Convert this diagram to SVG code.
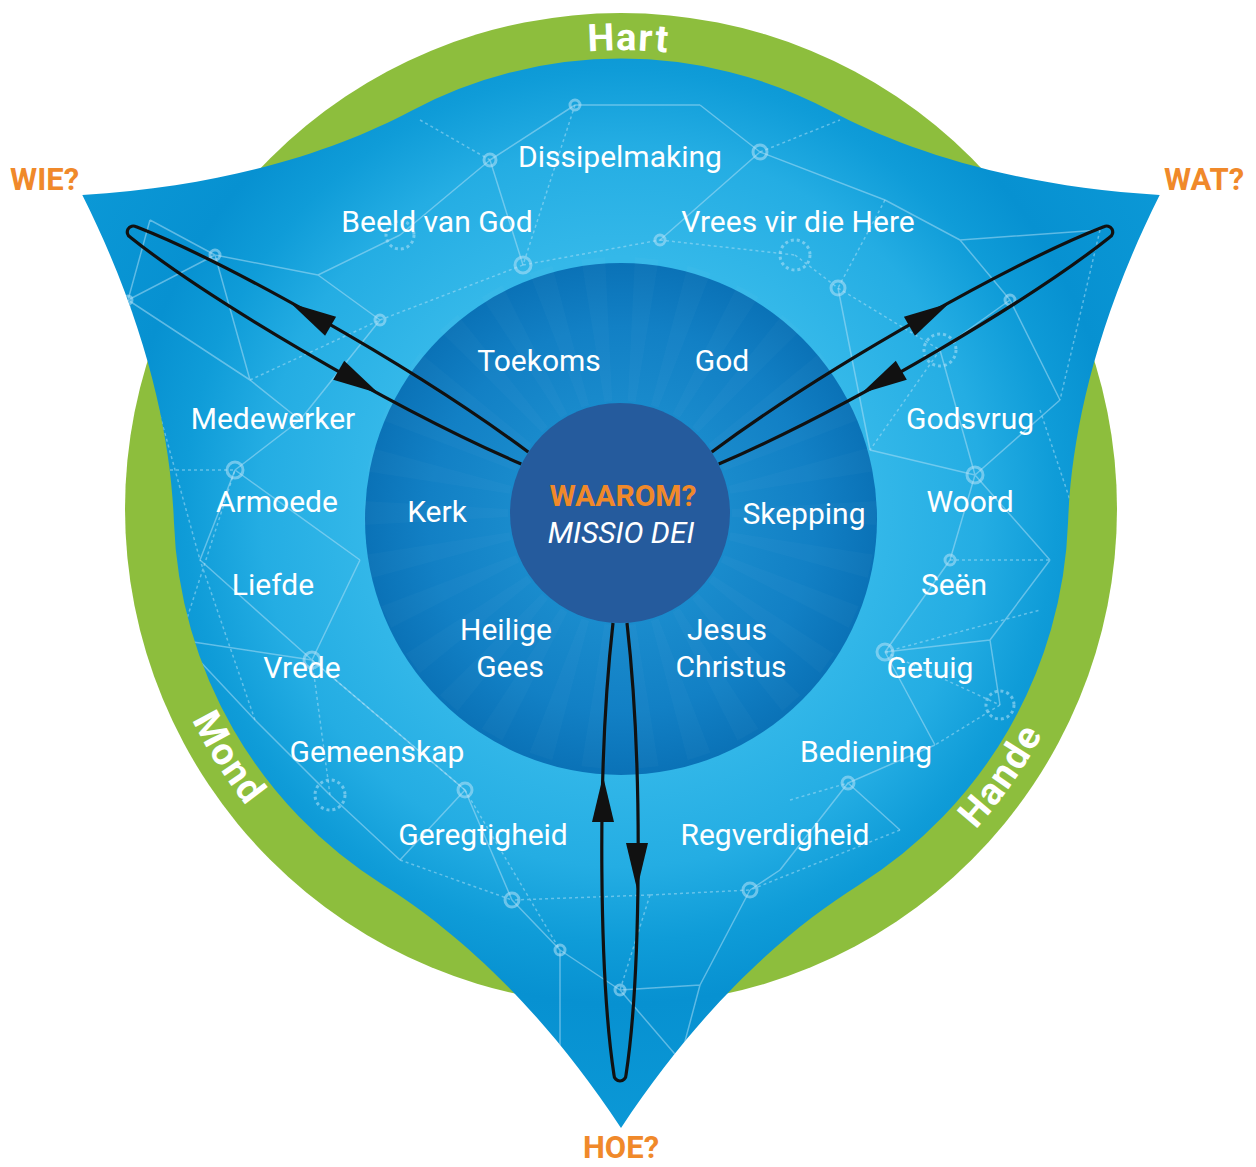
<svg xmlns="http://www.w3.org/2000/svg" xmlns:xlink="http://www.w3.org/1999/xlink" width="1256" height="1167" viewBox="0 0 1256 1167">
<style>
.lbl{font-family:Roboto,"Liberation Sans",sans-serif;font-size:30px;fill:#ffffff;text-anchor:middle;font-weight:400}
.q{font-family:Roboto,"Liberation Sans",sans-serif;font-size:31px;fill:#f0892a;font-weight:700}
.ring{font-family:Roboto,"Liberation Sans",sans-serif;font-size:38px;fill:#ffffff;font-weight:700;letter-spacing:1.5px}
.net{stroke:#b4e2f7;stroke-width:1.5;fill:none;stroke-opacity:0.5}
.dash{stroke-dasharray:3 3}
.nd{fill:none;stroke:#b4e2f7;stroke-opacity:0.55;stroke-width:3}
.loop{fill:none;stroke:#111111;stroke-width:3.2}
.arr{fill:#111111}
</style>
<defs>
<path id="blueShape" d="M82.3,195 C233,186 340,148.5 411,111 A447,447 0 0 1 831,111 C902,148.5 1009,186 1159.7,195 C1092.1,330 1071.1,441.4 1068.1,521.6 A447,447 0 0 1 858.1,885.4 C790.1,928.1 704.1,1002 621,1128 C537.9,1002 451.9,928.1 383.9,885.4 A447,447 0 0 1 173.9,521.6 C170.9,441.4 149.9,330 82.3,195 Z"/>
<clipPath id="blueClip"><use xlink:href="#blueShape"/></clipPath>
<radialGradient id="gBlue" gradientUnits="userSpaceOnUse" cx="621" cy="506" r="622">
<stop offset="0.4" stop-color="#34b8e9"/>
<stop offset="0.58" stop-color="#24ade3"/>
<stop offset="0.70" stop-color="#0f9cd8"/>
<stop offset="0.8" stop-color="#0791d1"/>
<stop offset="1" stop-color="#0b98d6"/>
</radialGradient>
<radialGradient id="gMid" gradientUnits="userSpaceOnUse" cx="621" cy="519" r="256">
<stop offset="0.4" stop-color="#1a8ccd"/>
<stop offset="0.75" stop-color="#1280c5"/>
<stop offset="1" stop-color="#0a72b7"/>
</radialGradient>
<polygon id="ray" points="112,-4 256,-12 256,12 112,4" fill="#ffffff" fill-opacity="0.025"/>
<path id="loop" d="M110,7 C260,24 470,20 562,6 A6,6 0 0 0 562,-6 C470,-20 260,-24 110,-7"/>
<polygon id="arrowOut" points="24,0 -22,-11 -22,11"/>
<path id="arcTop" d="M162,509 A459,459 0 0 1 1080,509"/>
<path id="arcBottom" d="M143,509 A478,478 0 0 0 1099,509"/>
</defs>

<rect width="1256" height="1167" fill="#ffffff"/>

<g id="green-ring">
<circle cx="621" cy="509" r="496" fill="#8dbe3d"/>
</g>

<g id="blue-area">
<use xlink:href="#blueShape" fill="url(#gBlue)"/>
<g clip-path="url(#blueClip)">
<g class="net">
<path d="M150,220L128,300M150,220L215,255M128,300L215,255M215,255L318,275M215,255L250,380M318,275L380,320M318,275L400,235M400,235L490,160M490,160L575,105M490,160L523,265M575,105L700,105M700,105L760,152M660,240L760,152M760,152L885,200M885,200L960,240M960,240L1010,300M960,240L1100,230M1010,300L940,350M1010,300L1060,400M940,350L975,475M1060,400L975,475M975,475L1050,560M975,475L950,560M950,560L885,652M885,652L990,640M990,640L1000,705M885,652L935,745M935,745L848,783M848,783L900,830M848,783L780,870M780,870L750,890M750,890L700,985M700,985L620,990M620,990L560,950M560,950L512,900M512,900L465,790M465,790L400,860M400,860L330,795M330,795L255,720M465,790L312,660M312,660L180,640M255,720L180,640M200,560L235,470M235,470L300,420M300,420L250,380M300,420L380,320M312,660L360,560M360,560L235,470M560,950L560,1060M620,990L680,1060M700,985L680,1060M870,450L975,475M870,450L838,288M128,300L250,380M1050,560L990,640M312,660L200,560"/>
</g>
<g class="net dash">
<path d="M250,380L380,320M380,320L523,265M523,265L660,240M575,105L523,265M660,240L795,255M795,255L838,288M838,288L940,350M885,200L838,288M1100,230L1060,400M940,350L870,450M950,560L1050,560M885,652L1000,705M1000,705L935,745M900,830L750,890M650,895L750,890M650,895L620,990M650,895L512,900M400,860L512,900M330,795L312,660M255,720L200,560M180,640L235,470M128,300L200,560M420,120L490,160M760,152L840,120M1040,410L1090,560M170,470L235,470M465,790L560,950M885,652L1040,610M312,660L465,790M790,800L848,783"/>
</g>
<g>
<circle class="nd" cx="490" cy="160" r="6"/>
<circle class="nd" cx="760" cy="152" r="7"/>
<circle class="nd" cx="523" cy="265" r="8"/>
<circle class="nd" cx="838" cy="288" r="7"/>
<circle class="nd dash" cx="795" cy="255" r="15" stroke-width="2"/>
<circle class="nd" cx="380" cy="320" r="5"/>
<circle class="nd" cx="235" cy="470" r="8"/>
<circle class="nd" cx="975" cy="475" r="8"/>
<circle class="nd" cx="885" cy="652" r="8"/>
<circle class="nd" cx="312" cy="660" r="8"/>
<circle class="nd" cx="465" cy="790" r="7"/>
<circle class="nd" cx="848" cy="783" r="6"/>
<circle class="nd dash" cx="330" cy="795" r="15" stroke-width="2"/>
<circle class="nd dash" cx="940" cy="350" r="16" stroke-width="2"/>
<circle class="nd" cx="750" cy="890" r="7"/>
<circle class="nd" cx="620" cy="990" r="5"/>
<circle class="nd" cx="215" cy="255" r="5"/>
<circle class="nd" cx="128" cy="300" r="4"/>
<circle class="nd" cx="1010" cy="300" r="5"/>
<circle class="nd dash" cx="400" cy="235" r="14" stroke-width="2"/>
<circle class="nd" cx="950" cy="560" r="5"/>
<circle class="nd" cx="560" cy="950" r="5"/>
<circle class="nd" cx="512" cy="900" r="7"/>
<circle class="nd dash" cx="1000" cy="705" r="14" stroke-width="2"/>
<circle class="nd" cx="660" cy="240" r="5"/>
<circle class="nd" cx="575" cy="105" r="5"/>
</g>
</g>
</g>

<g id="middle-circle">
<circle cx="621" cy="519" r="256" fill="url(#gMid)"/>
<g transform="translate(620,513)">
<use xlink:href="#ray" transform="rotate(0)"/><use xlink:href="#ray" transform="rotate(12)"/><use xlink:href="#ray" transform="rotate(24)"/><use xlink:href="#ray" transform="rotate(36)"/><use xlink:href="#ray" transform="rotate(48)"/><use xlink:href="#ray" transform="rotate(60)"/><use xlink:href="#ray" transform="rotate(72)"/><use xlink:href="#ray" transform="rotate(84)"/><use xlink:href="#ray" transform="rotate(96)"/><use xlink:href="#ray" transform="rotate(108)"/><use xlink:href="#ray" transform="rotate(120)"/><use xlink:href="#ray" transform="rotate(132)"/><use xlink:href="#ray" transform="rotate(144)"/><use xlink:href="#ray" transform="rotate(156)"/><use xlink:href="#ray" transform="rotate(168)"/><use xlink:href="#ray" transform="rotate(180)"/><use xlink:href="#ray" transform="rotate(192)"/><use xlink:href="#ray" transform="rotate(204)"/><use xlink:href="#ray" transform="rotate(216)"/><use xlink:href="#ray" transform="rotate(228)"/><use xlink:href="#ray" transform="rotate(240)"/><use xlink:href="#ray" transform="rotate(252)"/><use xlink:href="#ray" transform="rotate(264)"/><use xlink:href="#ray" transform="rotate(276)"/><use xlink:href="#ray" transform="rotate(288)"/><use xlink:href="#ray" transform="rotate(300)"/><use xlink:href="#ray" transform="rotate(312)"/><use xlink:href="#ray" transform="rotate(324)"/><use xlink:href="#ray" transform="rotate(336)"/><use xlink:href="#ray" transform="rotate(348)"/>
</g>
</g>

<g id="center">
<circle cx="620" cy="513" r="110" fill="#255b9d"/>
<text x="623" y="506" class="lbl" style="font-weight:700;fill:#f0892a;font-size:30px">WAAROM?</text>
<text x="621" y="543" class="lbl" style="font-style:italic;font-weight:400;font-size:30px">MISSIO DEI</text>
</g>

<g id="connectors">
<g transform="translate(620,513) rotate(210)">
<use xlink:href="#loop" class="loop"/>
<use xlink:href="#arrowOut" class="arr" transform="translate(366,17)"/>
<use xlink:href="#arrowOut" class="arr" transform="translate(293,-17) scale(-1,1)"/>
</g>
<g transform="translate(620,513) rotate(330)">
<use xlink:href="#loop" class="loop"/>
<use xlink:href="#arrowOut" class="arr" transform="translate(366,-17)"/>
<use xlink:href="#arrowOut" class="arr" transform="translate(293,17) scale(-1,1)"/>
</g>
<g transform="translate(620,513) rotate(90)">
<use xlink:href="#loop" class="loop"/>
<use xlink:href="#arrowOut" class="arr" transform="translate(352,-17)"/>
<use xlink:href="#arrowOut" class="arr" transform="translate(287,17) scale(-1,1)"/>
</g>
</g>

<g id="ring-labels">
<g id="hart"><text class="ring"><textPath xlink:href="#arcTop" startOffset="50.5%" text-anchor="middle">Hart</textPath></text></g>
<g id="mond"><text class="ring"><textPath xlink:href="#arcBottom" startOffset="270" text-anchor="middle">Mond</textPath></text></g>
<g id="hande"><text class="ring"><textPath xlink:href="#arcBottom" startOffset="1209" text-anchor="middle">Hande</textPath></text></g>
</g>

<g id="questions">
<g id="wie"><text class="q" x="10" y="190">WIE?</text></g>
<g id="wat"><text class="q" x="1164" y="190">WAT?</text></g>
<g id="hoe"><text class="q" x="621" y="1158" text-anchor="middle">HOE?</text></g>
</g>

<g id="labels">
<g id="dissipelmaking"><text class="lbl" x="620" y="167">Dissipelmaking</text></g>
<g id="beeld-van-god"><text class="lbl" x="437" y="232">Beeld van God</text></g>
<g id="vrees-vir-die-here"><text class="lbl" x="798" y="232">Vrees vir die Here</text></g>
<g id="toekoms"><text class="lbl" x="539" y="371">Toekoms</text></g>
<g id="god"><text class="lbl" x="722" y="371">God</text></g>
<g id="medewerker"><text class="lbl" x="273" y="429">Medewerker</text></g>
<g id="godsvrug"><text class="lbl" x="970" y="429">Godsvrug</text></g>
<g id="armoede"><text class="lbl" x="277" y="512">Armoede</text></g>
<g id="kerk"><text class="lbl" x="437" y="522">Kerk</text></g>
<g id="skepping"><text class="lbl" x="804" y="524">Skepping</text></g>
<g id="woord"><text class="lbl" x="970" y="512">Woord</text></g>
<g id="liefde"><text class="lbl" x="273" y="595">Liefde</text></g>
<g id="seen"><text class="lbl" x="954" y="595">Seën</text></g>
<g id="heilige-gees"><text class="lbl" x="506" y="640">Heilige</text><text class="lbl" x="510" y="677">Gees</text></g>
<g id="jesus-christus"><text class="lbl" x="727" y="640">Jesus</text><text class="lbl" x="731" y="677">Christus</text></g>
<g id="vrede"><text class="lbl" x="302" y="678">Vrede</text></g>
<g id="getuig"><text class="lbl" x="930" y="678">Getuig</text></g>
<g id="gemeenskap"><text class="lbl" x="377" y="762">Gemeenskap</text></g>
<g id="bediening"><text class="lbl" x="866" y="762">Bediening</text></g>
<g id="geregtigheid"><text class="lbl" x="483" y="845">Geregtigheid</text></g>
<g id="regverdigheid"><text class="lbl" x="775" y="845">Regverdigheid</text></g>
</g>
</svg>
